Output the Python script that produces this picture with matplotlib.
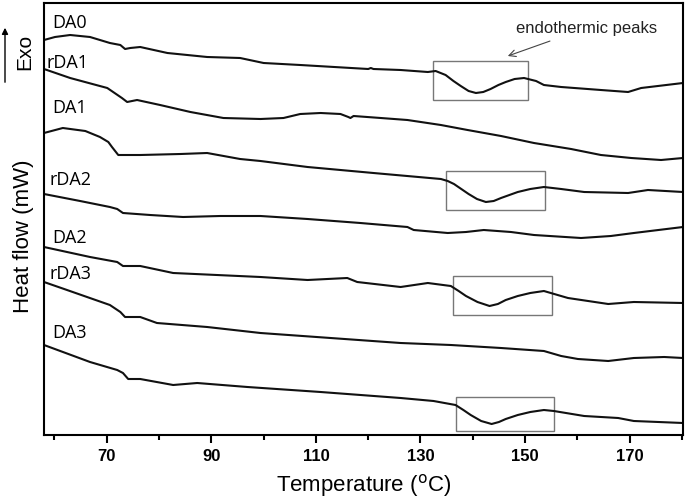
import matplotlib
matplotlib.use("Agg")
import matplotlib.pyplot as plt
from matplotlib.patches import Rectangle, FancyArrowPatch
from matplotlib.ticker import MultipleLocator

plt.rcParams['font.family'] = ['Liberation Sans', 'DejaVu Sans']

# DSC traces, temperature (C) vs heat flow (offset, arbitrary units)
t_da0 = [58.0, 60.1, 63.0, 66.8, 70.6, 72.6, 73.5, 74.5, 76.4, 81.6, 89.2, 95.5, 100.0, 107.0,
         120.0, 120.5, 121.0, 126.2, 131.4, 132.9, 134.8, 136.3, 137.7, 139.2, 140.6, 142.0,
         143.4, 144.9, 146.3, 148.0, 149.8, 152.1, 153.6, 156.9, 164.5, 169.7, 172.2, 180.2]
h_da0 = [3.95, 3.98, 4.00, 3.98, 3.92, 3.90, 3.86, 3.87, 3.88, 3.82, 3.78, 3.77, 3.72, 3.70,
         3.66, 3.67, 3.66, 3.65, 3.63, 3.64, 3.60, 3.54, 3.49, 3.44, 3.42, 3.43,
         3.46, 3.50, 3.53, 3.56, 3.57, 3.54, 3.50, 3.48, 3.45, 3.43, 3.47, 3.52]

t_rda1 = [58.0, 63.0, 70.1, 72.9, 73.9, 75.8, 80.2, 86.0, 92.3, 99.4, 103.8, 107.0, 110.9,
          114.7, 116.2, 116.6, 117.2, 122.4, 127.5, 133.9, 139.0, 145.4, 151.7, 158.8,
          164.5, 170.3, 176.0, 180.2]
h_rda1 = [3.66, 3.57, 3.47, 3.37, 3.33, 3.35, 3.30, 3.23, 3.17, 3.16, 3.17, 3.21, 3.22,
          3.21, 3.18, 3.17, 3.19, 3.17, 3.15, 3.10, 3.05, 2.99, 2.92, 2.86,
          2.80, 2.77, 2.75, 2.77]

t_da1 = [58.0, 61.6, 65.9, 68.7, 70.3, 71.0, 72.2, 76.4, 84.1, 89.2, 95.5, 99.4, 108.4, 121.0,
         133.9, 135.2, 136.4, 137.8, 139.2, 140.8, 142.5, 144.0, 145.4, 147.0, 148.6, 151.0,
         153.6, 156.9, 161.3, 169.7, 173.5, 180.2]
h_da1 = [3.02, 3.07, 3.04, 2.98, 2.93, 2.88, 2.80, 2.80, 2.81, 2.82, 2.76, 2.74, 2.68, 2.62,
         2.56, 2.54, 2.51, 2.46, 2.41, 2.36, 2.33, 2.34, 2.37, 2.40, 2.43, 2.46,
         2.48, 2.46, 2.43, 2.42, 2.45, 2.43]

t_rda2 = [58.0, 64.9, 70.6, 72.0, 73.1, 78.3, 84.6, 91.7, 99.4, 108.4, 118.5, 127.5, 128.7,
          135.2, 138.7, 142.1, 147.3, 151.7, 160.7, 166.4, 170.8, 180.2]
h_rda2 = [2.41, 2.34, 2.28, 2.26, 2.22, 2.20, 2.18, 2.19, 2.19, 2.16, 2.12, 2.08, 2.05,
          2.02, 2.03, 2.05, 2.03, 2.00, 1.97, 1.99, 2.02, 2.08]

t_da2 = [58.0, 66.8, 72.0, 73.1, 76.4, 82.7, 99.4, 108.4, 116.0, 117.9, 126.2, 131.4, 135.8,
         137.3, 138.7, 140.9, 143.2, 144.8, 146.3, 148.6, 151.0, 153.6, 158.2, 165.9, 170.8, 180.2]
h_da2 = [1.88, 1.78, 1.73, 1.69, 1.69, 1.62, 1.58, 1.55, 1.57, 1.53, 1.48, 1.52, 1.49,
         1.44, 1.39, 1.33, 1.29, 1.31, 1.35, 1.39, 1.42, 1.44, 1.37, 1.31, 1.33, 1.32]

t_rda3 = [58.0, 62.4, 70.6, 72.6, 73.5, 76.4, 79.6, 89.2, 99.4, 112.8, 126.2, 135.8, 145.4,
          153.6, 156.9, 160.1, 165.9, 170.8, 176.6, 180.2]
h_rda3 = [1.53, 1.45, 1.30, 1.23, 1.18, 1.18, 1.12, 1.08, 1.02, 0.97, 0.92, 0.90, 0.87,
          0.84, 0.79, 0.76, 0.74, 0.77, 0.78, 0.77]

t_da3 = [58.0, 66.8, 72.0, 73.1, 74.1, 76.4, 82.7, 87.3, 96.9, 110.9, 126.2, 132.5, 136.7,
         138.2, 139.6, 141.6, 143.6, 145.0, 146.3, 148.6, 151.0, 153.6, 155.5, 161.3, 167.8,
         170.8, 180.2]
h_da3 = [0.90, 0.73, 0.65, 0.62, 0.56, 0.56, 0.50, 0.52, 0.48, 0.43, 0.37, 0.34, 0.30,
         0.25, 0.20, 0.14, 0.11, 0.13, 0.16, 0.20, 0.23, 0.25, 0.24, 0.19, 0.17,
         0.14, 0.12]

curves = [(t_da0, h_da0), (t_rda1, h_rda1), (t_da1, h_da1), (t_rda2, h_rda2),
          (t_da2, h_da2), (t_rda3, h_rda3), (t_da3, h_da3)]

labels = ["DA0", "rDA1", "DA1", "rDA2", "DA2", "rDA3", "DA3"]
label_x = [59.5, 58.4, 59.5, 59.1, 59.5, 59.1, 59.5]
label_y = [4.12, 3.72, 3.27, 2.55, 1.97, 1.61, 1.02]

# boxes around the endothermic peaks: (t0, t1, h0, h1)
boxes = [(132.3, 150.5, 3.35, 3.74),
         (134.8, 153.8, 2.25, 2.64),
         (136.2, 155.1, 1.20, 1.59),
         (136.7, 155.5, 0.04, 0.38)]

fig = plt.figure(figsize=(6.85, 4.98), dpi=100)
ax = fig.add_axes([44 / 685, 1 - 435 / 498, 639 / 685, 432 / 498])

for t, h in curves:
    ax.plot(t, h, color='#111111', lw=1.5)

for lab, lx, ly in zip(labels, label_x, label_y):
    ax.text(lx, ly, lab, fontsize=13, va='center', ha='left', family=['Open Sans', 'DejaVu Sans'])

for t0, t1, h0, h1 in boxes:
    ax.add_patch(Rectangle((t0, h0), t1 - t0, h1 - h0, fill=False, ec='#777777', lw=1.0))

ax.annotate("endothermic peaks", xy=(146.7, 3.79), xytext=(161.8, 4.07),
            fontsize=12, ha='center', va='center', color='#222222',
            arrowprops=dict(arrowstyle='->', color='#444444', lw=0.8, shrinkA=6, shrinkB=0))

ax.set_xlim(58, 180.2)
ax.set_ylim(0, 4.32)
ax.xaxis.set_minor_locator(MultipleLocator(10))
ax.set_xticks([70, 90, 110, 130, 150, 170])
ax.set_yticks([])
ax.tick_params(axis='x', which='major', direction='out', length=6, width=1.5, pad=4)
ax.tick_params(axis='x', which='minor', direction='out', length=3.5, width=1.5)
for lbl in ax.get_xticklabels():
    lbl.set_fontsize(12)
    lbl.set_fontweight('bold')
for sp in ax.spines.values():
    sp.set_linewidth(1.5)

ax.set_xlabel("Temperature ($^{\\mathrm{o}}$C)", fontsize=16, labelpad=6)
ax.set_ylabel("Heat flow (mW)", fontsize=16)
ax.yaxis.set_label_coords(-0.016, 0.46)

fig.text(25 / 685, 1 - 52 / 498, "Exo", rotation=90, fontsize=15, ha='center', va='center')
fig.add_artist(FancyArrowPatch((5 / 685, 1 - 85 / 498), (5 / 685, 1 - 25 / 498),
                               transform=fig.transFigure, arrowstyle='-|>', mutation_scale=9,
                               color='black', lw=1.0))

fig.savefig("out.png", dpi=100)
